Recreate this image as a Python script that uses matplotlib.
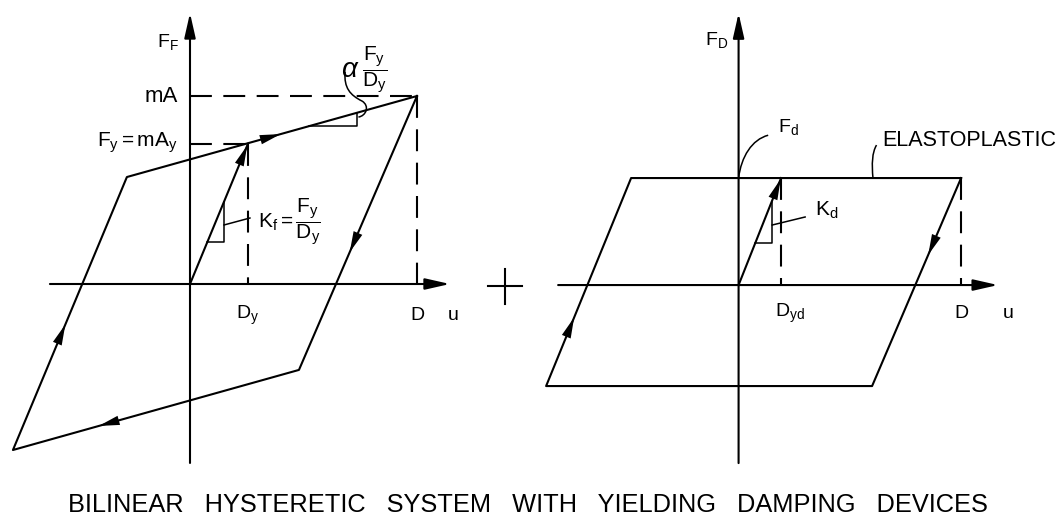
# Bilinear hysteretic system + elastoplastic damping device loops
import matplotlib.pyplot as plt
import numpy as np
from matplotlib.path import Path
from matplotlib.patches import PathPatch

plt.rcParams['font.family'] = ['Liberation Sans', 'DejaVu Sans']
plt.rcParams['mathtext.fontset'] = 'custom'
plt.rcParams['mathtext.rm'] = 'Liberation Sans'
plt.rcParams['mathtext.it'] = 'Liberation Sans:italic'
plt.rcParams['mathtext.default'] = 'regular'

# ---- frame system (left) ----
Dy = 0.255
Fy = 0.745
D = 1.0
mA = 1.0
f_loop_u = [1.0, 0.48, -0.78, -0.278, 1.0]
f_loop_F = [1.0, -0.457, -0.883, 0.569, 1.0]
f_init_u = [0.0, Dy]
f_init_F = [0.0, Fy]

# ---- damping device (right) ----
Dyd = 0.191
Fd = 1.0
d_loop_u = [1.0, 0.600, -0.865, -0.483, 1.0]
d_loop_F = [Fd, -0.944, -0.944, Fd, Fd]
d_init_u = [0.0, Dyd]
d_init_F = [0.0, Fd]

lw = 1.5
fs = 14
dash = (10.5, 5.5)

W, H = 1063, 523
fig = plt.figure(figsize=(W / 100, H / 100), dpi=100)
ax1 = fig.add_axes([0, 1 - 480 / H, 460 / W, 480 / H])
ax2 = fig.add_axes([460 / W, 1 - 480 / H, 603 / W, 480 / H])
ax1.set_xlim(-190 / 227, 270 / 227)
ax1.set_ylim(-196 / 188, 284 / 188)
ax2.set_xlim(-1.252, 1.458)
ax2.set_ylim(-1.822, 2.664)
for ax in (ax1, ax2):
    ax.axis('off')


def arrow(ax, p0, p1, ms=20):
    # axis line with filled head at p1
    ax.annotate('', xy=p1, xytext=p0,
                arrowprops=dict(arrowstyle='-|>,head_length=0.75,head_width=0.17',
                                lw=lw, color='k', mutation_scale=ms,
                                shrinkA=0, shrinkB=0))


def mid_arrow(ax, a, b, t, ms=20):
    # arrow head on segment a->b at fraction t
    a = np.array(a)
    b = np.array(b)
    tip = a + (b - a) * t
    tail = a + (b - a) * (t - 0.02)
    ax.annotate('', xy=tip, xytext=tail,
                arrowprops=dict(arrowstyle='-|>,head_length=0.75,head_width=0.17',
                                lw=0, color='k', mutation_scale=ms,
                                shrinkA=0, shrinkB=0))


def curve(ax, pts):
    codes = [Path.MOVETO] + [Path.CURVE4] * (len(pts) - 1)
    ax.add_patch(PathPatch(Path(pts, codes), fc='none', ec='k', lw=1.1))


# left diagram
arrow(ax1, (-0.617, 0), (1.145, 0))
arrow(ax1, (0, -0.952), (0, 1.441))
ax1.plot(f_loop_u, f_loop_F, color='k', lw=lw)
ax1.plot(f_init_u, f_init_F, color='k', lw=lw)
ax1.plot([0, D], [mA, mA], color='k', lw=lw, dashes=dash)
ax1.plot([D, D], [mA, 0], color='k', lw=lw, dashes=dash)
ax1.plot([0, Dy], [Fy, Fy], color='k', lw=lw, dashes=dash)
ax1.plot([Dy, Dy], [Fy, 0], color='k', lw=lw, dashes=dash)

mid_arrow(ax1, (-0.278, 0.569), (1.0, 1.0), 0.53)
mid_arrow(ax1, (1.0, 1.0), (0.48, -0.457), 0.57)
mid_arrow(ax1, (0.48, -0.457), (-0.78, -0.883), 0.7)
mid_arrow(ax1, (-0.78, -0.883), (-0.278, 0.569), 0.46)
mid_arrow(ax1, (0, 0), (Dy, Fy), 0.99)

# slope triangles and leaders
ax1.plot([0.076, 0.150, 0.150], [0.223, 0.223, 0.438], color='k', lw=1.1)
ax1.plot([0.150, 0.264], [0.314, 0.351], color='k', lw=1.1)
ax1.plot([0.526, 0.736, 0.736], [0.84, 0.84, 0.911], color='k', lw=1.1)
curve(ax1, [(0.742, 0.888), (0.776, 0.894), (0.793, 0.947), (0.758, 0.973),
            (0.705, 1.005), (0.678, 1.043), (0.683, 1.128)])

ax1.text(-0.145, 1.287, '$F_F$', fontsize=fs, va='center', ha='left')
ax1.text(-0.053, 1.0, 'mA', fontsize=16, va='center', ha='right')
ax1.text(-0.053, 0.75, '$F_y = mA_y$', fontsize=15, va='center', ha='right')
ax1.text(Dy, -0.165, '$D_y$', fontsize=fs, va='center', ha='center')
ax1.text(D, -0.165, 'D', fontsize=fs, va='center', ha='center')
ax1.text(1.16, -0.165, 'u', fontsize=fs, va='center', ha='center')
ax1.text(0.30, 0.33, r'$K_f = \dfrac{F_y}{D_y}$', fontsize=15, va='center', ha='left')
ax1.text(0.702, 1.14, 'α', fontsize=20, style='italic', va='center', ha='center')
ax1.text(0.815, 1.135, r'$\dfrac{F_y}{D_y}$', fontsize=15, va='center', ha='center')

# right diagram
arrow(ax2, (-0.811, 0), (1.166, 0))
arrow(ax2, (0, -1.664), (0, 2.54))
ax2.plot(d_loop_u, d_loop_F, color='k', lw=lw)
ax2.plot(d_init_u, d_init_F, color='k', lw=lw)
ax2.plot([Dyd, Dyd], [Fd, 0], color='k', lw=lw, dashes=dash)
ax2.plot([D, D], [Fd, 0], color='k', lw=lw, dashes=dash)

mid_arrow(ax2, (-0.865, -0.944), (-0.483, Fd), 0.33)
mid_arrow(ax2, (1.0, Fd), (0.600, -0.944), 0.37)
mid_arrow(ax2, (0, 0), (Dyd, Fd), 0.99)

ax2.plot([0.075, 0.151, 0.151], [0.393, 0.393, 0.78], color='k', lw=1.1)
ax2.plot([0.151, 0.299], [0.561, 0.636], color='k', lw=1.1)
curve(ax2, [(0.0, 1.0), (0.012, 1.2), (0.06, 1.36), (0.133, 1.40)])
curve(ax2, [(0.604, 1.0), (0.598, 1.13), (0.600, 1.24), (0.62, 1.308)])

# the "+" between the two loops
ax2.plot([-1.125, -0.973], [-0.01, -0.01], color='k', lw=lw)
ax2.plot([-1.049, -1.049], [-0.174, 0.154], color='k', lw=lw)

ax2.text(-0.151, 2.29, '$F_D$', fontsize=fs, va='center', ha='left')
ax2.text(0.178, 1.477, '$F_d$', fontsize=fs, va='center', ha='left')
ax2.text(0.645, 1.355, 'ELASTOPLASTIC', fontsize=15.5, va='center', ha='left')
ax2.text(0.344, 0.70, '$K_d$', fontsize=fs + 1, va='center', ha='left')
ax2.text(0.231, -0.262, '$D_{yd}$', fontsize=fs, va='center', ha='center')
ax2.text(D, -0.262, 'D', fontsize=fs, va='center', ha='center')
ax2.text(1.211, -0.262, 'u', fontsize=fs, va='center', ha='center')

fig.text(0.497, 1 - 505 / H,
         'BILINEAR   HYSTERETIC   SYSTEM   WITH   YIELDING   DAMPING   DEVICES',
         fontsize=18.3, ha='center', va='center')

fig.savefig('out.png', dpi=100)
